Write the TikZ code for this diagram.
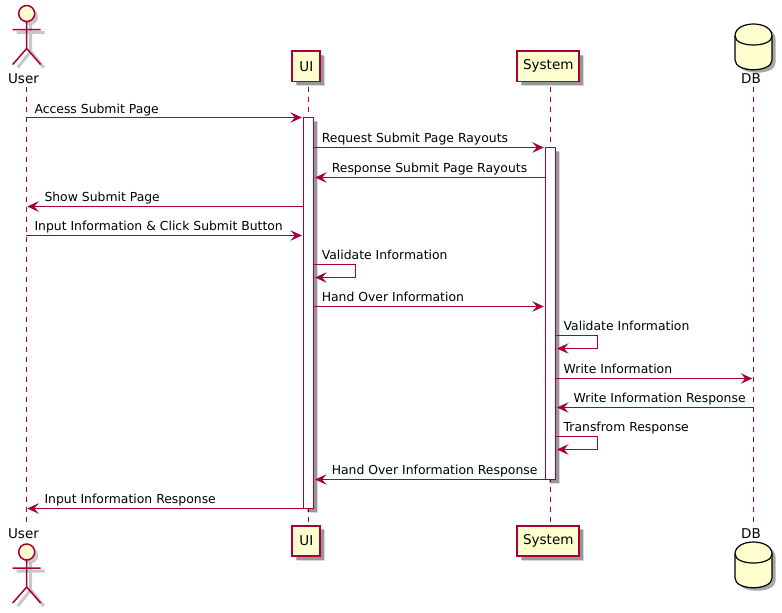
\documentclass[tikz,border=0pt]{standalone}
\usepackage{fontspec}
\setmainfont{DejaVu Sans}
\usetikzlibrary{arrows.meta}
\definecolor{umlred}{HTML}{A80036}
\definecolor{umlfill}{HTML}{FEFECE}
\tikzset{
  boxshadow/.style={
    preaction={fill=black,opacity=.15,transform canvas={shift={(4.5pt,-4.5pt)}}},
    preaction={fill=black,opacity=.3,transform canvas={shift={(3.5pt,-3.5pt)}}}},
  headbox/.style={boxshadow,draw=umlred,fill=umlfill,line width=1.8pt,inner sep=0pt,minimum height=30.5pt,font=\fontsize{13.5}{16}\selectfont},
  headtxt/.style={inner sep=0pt,font=\fontsize{13.5}{16}\selectfont},
  actbox/.style={boxshadow,draw=umlred,fill=white,line width=1pt,inner sep=0pt,minimum width=10.2pt},
  lifeline/.style={draw=umlred,line width=1pt,dash pattern=on 5pt off 5pt},
  msg/.style={draw=umlred,line width=1pt,-{Stealth[length=11.5pt,width=10.5pt,inset=4.5pt]},shorten >=1pt},
  msgtxt/.style={inner sep=0pt,anchor=base west,font=\fontsize{12.4}{14}\selectfont},
  actorman/.pic={
    \fill[black,opacity=.22] (3.5,3.5) circle (8);
    \draw[black,opacity=.22,line width=3pt] (4,11) -- (4,38) (-10,19) -- (18,19) (4,38) -- (-9,54) (4,38) -- (17,54);
    \draw[umlred,line width=1.5pt,fill=umlfill] (0,0) circle (8);
    \draw[umlred,line width=1.5pt] (0,8) -- (0,35) (-14,16) -- (14,16) (0,35) -- (-14,51) (0,35) -- (14,51);
  },
  dbcan/.pic={
    \fill[black,opacity=.35] (-15,15) .. controls (-15,-1) and (22,-1) .. (22,15) -- (22,39)
      .. controls (22,52) and (-15,52) .. (-15,39) -- cycle;
    \draw[black,line width=1.2pt,fill=umlfill] (-18.5,12) .. controls (-18.5,-4) and (18.5,-4) .. (18.5,12) -- (18.5,36)
      .. controls (18.5,49) and (-18.5,49) .. (-18.5,36) -- cycle;
    \draw[black,line width=1.2pt] (-18.5,12) .. controls (-18.5,24) and (18.5,24) .. (18.5,12);
  }
}
\begin{document}
\begin{tikzpicture}[x=1pt,y=-1pt]
  \useasboundingbox (0,0) rectangle (782,613);
  % lifelines
  \coordinate (userT) at (26.3,86.5);
  \coordinate (userB) at (26.3,521.5);
  \coordinate (uiT) at (308.3,86.5);
  \coordinate (uiB) at (308.3,521.5);
  \coordinate (sysT) at (550.3,86.5);
  \coordinate (sysB) at (550.3,521.5);
  \coordinate (dbT) at (753.3,86.5);
  \coordinate (dbB) at (753.3,521.5);
  \draw[lifeline] (userT) -- (userB);
  \draw[lifeline] (uiT) -- (uiB);
  \draw[lifeline] (sysT) -- (sysB);
  \draw[lifeline] (dbT) -- (dbB);
  % heads
  \pic at (26.7,13.5) {actorman};
  \pic at (26.7,552) {actorman};
  \node[headtxt] (usertop) at (23.5,79) {User};
  \node[headtxt] (userbot) at (23.5,534) {User};
  \node[headbox,minimum width=28pt] (uitop) at (306.3,66.3) {UI};
  \node[headbox,minimum width=28pt] (uibot) at (306.3,541) {UI};
  \node[headbox,minimum width=62pt] (systop) at (548.3,66.3) {System};
  \node[headbox,minimum width=62pt] (sysbot) at (548.3,541) {System};
  \pic at (753.5,24) {dbcan};
  \pic at (753.5,542) {dbcan};
  \node[headtxt] (dbtop) at (751,79) {DB};
  \node[headtxt] (dbbot) at (751,534) {DB};
  % rows
  \foreach \n/\yy in {1/117.5,2/147.5,3/177.5,4/206.5,5/235.5,6/264.5,7/277.5,8/306.5,9/335.5,10/348.5,11/378.5,12/407.5,13/436.5,14/449.5,15/479.5,16/508.5}
    \coordinate (r\n) at (0,\yy);
  % activations
  \node[actbox,minimum height=391pt] (uiact) at (308.5,313) {};
  \node[actbox,minimum height=332pt] (sysact) at (550.4,313.5) {};
  % messages
  \draw[msg] (userT|-r1) -- (uiact.west|-r1);
  \node[msgtxt] (t1) at ([xshift=8pt,yshift=4pt]userT|-r1) {Access Submit Page};
  \draw[msg] (uiact.east|-r2) -- (sysact.west|-r2);
  \node[msgtxt] (t2) at ([xshift=7.5pt,yshift=5pt]uiact.east|-r2) {Request Submit Page Rayouts};
  \draw[msg] (sysact.west|-r3) -- (uiact.east|-r3);
  \node[msgtxt] (t3) at ([xshift=17.5pt,yshift=5pt]uiact.east|-r3) {Response Submit Page Rayouts};
  \draw[msg] (uiact.west|-r4) -- (userT|-r4);
  \node[msgtxt] (t4) at ([xshift=18pt,yshift=5pt]userT|-r4) {Show Submit Page};
  \draw[msg] (userT|-r5) -- (uiact.west|-r5);
  \node[msgtxt] (t5) at ([xshift=8pt,yshift=5pt]userT|-r5) {Input Information \& Click Submit Button};
  \draw[msg] (uiact.east|-r6) -- ++(41,0) |- (uiact.east|-r7);
  \node[msgtxt] (t6) at ([xshift=7.5pt,yshift=5pt]uiact.east|-r6) {Validate Information};
  \draw[msg] (uiact.east|-r8) -- (sysact.west|-r8);
  \node[msgtxt] (t7) at ([xshift=7.5pt,yshift=5pt]uiact.east|-r8) {Hand Over Information};
  \draw[msg] (sysact.east|-r9) -- ++(41,0) |- (sysact.east|-r10);
  \node[msgtxt] (t8) at ([xshift=7.5pt,yshift=5pt]sysact.east|-r9) {Validate Information};
  \draw[msg] (sysact.east|-r11) -- (dbT|-r11);
  \node[msgtxt] (t9) at ([xshift=7.5pt,yshift=5pt]sysact.east|-r11) {Write Information};
  \draw[msg] (dbT|-r12) -- (sysact.east|-r12);
  \node[msgtxt] (t10) at ([xshift=17.5pt,yshift=5pt]sysact.east|-r12) {Write Information Response};
  \draw[msg] (sysact.east|-r13) -- ++(41,0) |- (sysact.east|-r14);
  \node[msgtxt] (t11) at ([xshift=7.5pt,yshift=5pt]sysact.east|-r13) {Transfrom Response};
  \draw[msg] (sysact.west|-r15) -- (uiact.east|-r15);
  \node[msgtxt] (t12) at ([xshift=17.5pt,yshift=5pt]uiact.east|-r15) {Hand Over Information Response};
  \draw[msg] (uiact.west|-r16) -- (userT|-r16);
  \node[msgtxt] (t13) at ([xshift=18pt,yshift=5pt]userT|-r16) {Input Information Response};
\end{tikzpicture}
\end{document}
